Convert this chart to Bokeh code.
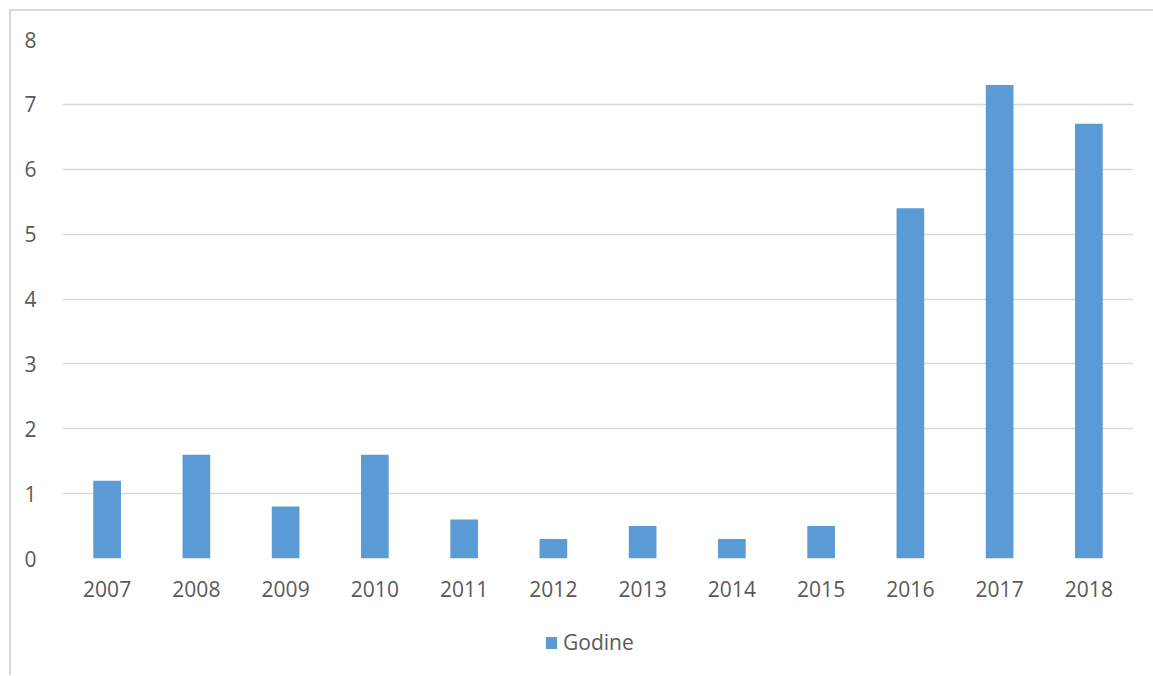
from bokeh.plotting import figure
from bokeh.layouts import column
from bokeh.models import ColumnDataSource, FactorRange, Range1d, Legend, LegendItem, SingleIntervalTicker
from bokeh.embed import file_html
from bokeh.resources import INLINE

years = ["2007", "2008", "2009", "2010", "2011", "2012", "2013", "2014", "2015", "2016", "2017", "2018"]
values = [1.2, 1.6, 0.8, 1.6, 0.6, 0.3, 0.5, 0.3, 0.5, 5.4, 7.3, 6.7]
series_name = "Godine"
bar_color = "#5B9BD5"
font = "Open Sans"

src = ColumnDataSource(data=dict(x=years, y=values))

p = figure(width=1142, height=595, x_range=FactorRange(*years), y_range=Range1d(0, 8),
           output_backend="svg", toolbar_location=None,
           min_border_left=51, min_border_right=20, min_border_top=28, min_border_bottom=48)
p.outline_line_color = None

r = p.vbar(x="x", top="y", width=0.31, source=src, fill_color=bar_color, line_color=None)

for ax in (p.xaxis[0], p.yaxis[0]):
    ax.axis_line_color = None
    ax.major_tick_line_color = None
    ax.minor_tick_line_color = None
    ax.major_tick_out = 0
    ax.major_tick_in = 0
    ax.major_label_text_font = font
    ax.major_label_text_font_size = "21px"
    ax.major_label_text_color = "#595959"
p.yaxis[0].ticker = SingleIntervalTicker(interval=1)
p.yaxis[0].major_label_standoff = 22
p.xaxis[0].major_label_standoff = 22

p.xgrid.grid_line_color = None
p.ygrid.grid_line_color = "#d9d9d9"
p.ygrid.grid_line_width = 1.5

# legend strip below the chart (its placeholder glyph has zero size)
p2 = figure(width=1142, height=69, x_range=Range1d(0, 1), y_range=Range1d(0, 1),
            output_backend="svg", toolbar_location=None,
            x_axis_location=None, y_axis_location=None,
            min_border_left=0, min_border_right=0, min_border_top=0, min_border_bottom=0)
p2.outline_line_color = None
p2.xgrid.visible = False
p2.ygrid.visible = False
lr = p2.vbar(x=[0.5], top=[0], bottom=[0], width=0, fill_color=bar_color, line_color=None)

legend = Legend(items=[LegendItem(label=series_name, renderers=[lr])], orientation="horizontal",
                location=(482, 19), label_text_font=font, label_text_font_size="21px",
                label_text_color="#595959", glyph_width=14, glyph_height=15, label_standoff=5,
                border_line_color=None, background_fill_alpha=0, margin=0, padding=5)
p2.add_layout(legend, "center")

layout = column(p, p2, spacing=0)
layout.styles = {"border-top": "2px solid #d9d9d9", "border-left": "2px solid #d9d9d9",
                 "margin-left": "9px", "margin-top": "9px"}

open("out.html", "w").write(file_html(layout, INLINE))
